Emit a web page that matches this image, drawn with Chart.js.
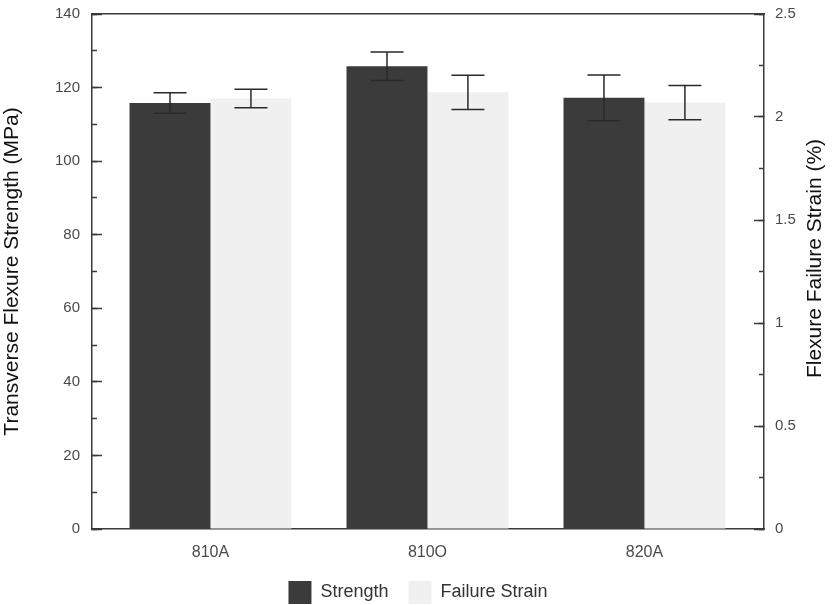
<!DOCTYPE html>
<html>
<head>
<meta charset="utf-8">
<script src="https://cdn.jsdelivr.net/npm/chart.js@4.4.1/dist/chart.umd.min.js"></script>
<style>
  html, body { margin: 0; padding: 0; background: #ffffff; }
  #wrap { width: 836px; height: 605px; position: relative; }
</style>
</head>
<body>
<div id="wrap"><canvas id="c"></canvas></div>
<script>
// ---- data ----
const categories = ['810A', '810O', '820A'];
const strength = [115.8, 125.8, 117.2];        // MPa
const strengthErr = [2.8, 3.9, 6.2];
const failureStrain = [2.09, 2.12, 2.07];      // %
const failureStrainErr = [0.045, 0.083, 0.083];
const leftTicksMax = 140;
const rightTicksMax = 2.5;
const leftTitle = 'Transverse Flexure Strength (MPa)';
const rightTitle = 'Flexure Failure Strain (%)';

Chart.defaults.font.family = '"Liberation Sans", Arial, Helvetica, sans-serif';

const axisColor = '#3a3a3a';
const labelColor = '#4a4a4a';

const noPad = s => { s.paddingTop = 0; s.paddingBottom = 0; s.paddingLeft = 0; s.paddingRight = 0; };

const errorBars = {
  id: 'errorBars',
  afterDatasetsDraw(chart) {
    const ctx = chart.ctx;
    const errs = [strengthErr, failureStrainErr];
    const vals = [strength, failureStrain];
    ctx.save();
    ctx.strokeStyle = '#2a2a2a';
    ctx.lineWidth = 1.5;
    chart.data.datasets.forEach((ds, di) => {
      const meta = chart.getDatasetMeta(di);
      const ys = chart.scales[ds.yAxisID];
      meta.data.forEach((el, i) => {
        const v = vals[di][i], e = errs[di][i];
        const yt = ys.getPixelForValue(v + e);
        const yb = ys.getPixelForValue(v - e);
        const x = el.x, hw = 16.5;
        ctx.beginPath();
        ctx.moveTo(x, yt); ctx.lineTo(x, yb);
        ctx.moveTo(x - hw, yt); ctx.lineTo(x + hw, yt);
        ctx.moveTo(x - hw, yb); ctx.lineTo(x + hw, yb);
        ctx.stroke();
      });
    });
    ctx.restore();
  }
};

const rightTitlePlugin = {
  id: 'rightTitle',
  afterDraw(chart) {
    const ctx = chart.ctx;
    const a = chart.chartArea;
    ctx.save();
    ctx.translate(815, (a.top + a.bottom) / 2 - 13);
    ctx.rotate(-Math.PI / 2);
    ctx.font = '21px "Liberation Sans", Arial, Helvetica, sans-serif';
    ctx.fillStyle = '#111111';
    ctx.textAlign = 'center';
    ctx.textBaseline = 'middle';
    ctx.fillText(rightTitle, 0, 0);
    ctx.restore();
  }
};

const toPoints = arr => arr.map((v, i) => ({ x: i + 1, y: v }));

new Chart(document.getElementById('c'), {
  type: 'bar',
  data: {
    datasets: [
      {
        label: 'Strength',
        data: toPoints(strength),
        backgroundColor: '#3b3b3b',
        borderWidth: 0,
        yAxisID: 'yL',
        categoryPercentage: 0.746,
        barPercentage: 1.0
      },
      {
        label: 'Failure Strain',
        data: toPoints(failureStrain),
        backgroundColor: '#f0f0f0',
        borderWidth: 0,
        yAxisID: 'yR',
        categoryPercentage: 0.746,
        barPercentage: 1.0
      }
    ]
  },
  options: {
    responsive: true,
    maintainAspectRatio: false,
    animation: false,
    layout: { padding: 0 },
    plugins: {
      tooltip: { enabled: false },
      legend: {
        position: 'bottom',
        maxHeight: 44,
        labels: {
          boxWidth: 23,
          boxHeight: 23,
          padding: 20,
          color: '#333333',
          font: { size: 18 }
        }
      }
    },
    scales: {
      x: {
        type: 'linear',
        position: 'bottom',
        min: 0.454,
        max: 3.551,
        offset: false,
        afterBuildTicks: s => { s.ticks = categories.map((c, i) => ({ value: i + 1 })); },
        afterFit: s => { s.height = 32; noPad(s); },
        grid: { display: false, drawTicks: false, offset: false },
        border: { display: true, color: axisColor, width: 1.5 },
        ticks: {
          color: labelColor,
          font: { size: 16 },
          padding: 14,
          maxRotation: 0,
          autoSkip: false,
          callback: v => categories[Math.round(v) - 1] || ''
        }
      },
      xTop: {
        type: 'linear',
        position: 'top',
        min: 0, max: 1,
        afterFit: s => { s.height = 14; noPad(s); },
        grid: { display: false, drawTicks: false },
        border: { display: true, color: axisColor, width: 1.5 },
        ticks: { display: false }
      },
      yL: {
        type: 'linear',
        position: 'left',
        weight: 10,
        min: 0, max: leftTicksMax,
        afterFit: s => { s.width = 92; noPad(s); },
        grid: { display: true, drawOnChartArea: false, drawTicks: true, tickLength: -10, tickColor: axisColor, tickWidth: 1.5 },
        border: { display: true, color: axisColor, width: 1.5 },
        ticks: { stepSize: 20, color: labelColor, font: { size: 15 }, padding: 22 },
        title: { display: true, text: leftTitle, color: '#111111', font: { size: 21 }, padding: { top: 0, bottom: 0 } }
      },
      yLminor: {
        type: 'linear',
        position: 'left',
        weight: 0,
        min: 0, max: leftTicksMax,
        afterFit: s => { s.width = 0; noPad(s); },
        grid: { display: true, drawOnChartArea: false, drawTicks: true, tickLength: -5, tickColor: axisColor, tickWidth: 1.5 },
        border: { display: false },
        ticks: { stepSize: 10, display: false }
      },
      yR: {
        type: 'linear',
        position: 'right',
        weight: 10,
        min: 0, max: rightTicksMax,
        afterFit: s => { s.width = 72; noPad(s); },
        grid: { display: true, drawOnChartArea: false, drawTicks: true, tickLength: -10, tickColor: axisColor, tickWidth: 1.5 },
        border: { display: true, color: axisColor, width: 1.5 },
        ticks: { stepSize: 0.5, color: labelColor, font: { size: 15 }, padding: 21, callback: v => String(+v) }
      },
      yRminor: {
        type: 'linear',
        position: 'right',
        weight: 0,
        min: 0, max: rightTicksMax,
        afterFit: s => { s.width = 0; noPad(s); },
        grid: { display: true, drawOnChartArea: false, drawTicks: true, tickLength: -5, tickColor: axisColor, tickWidth: 1.5 },
        border: { display: false },
        ticks: { stepSize: 0.25, display: false }
      }
    }
  },
  plugins: [errorBars, rightTitlePlugin]
});
</script>
</body>
</html>
